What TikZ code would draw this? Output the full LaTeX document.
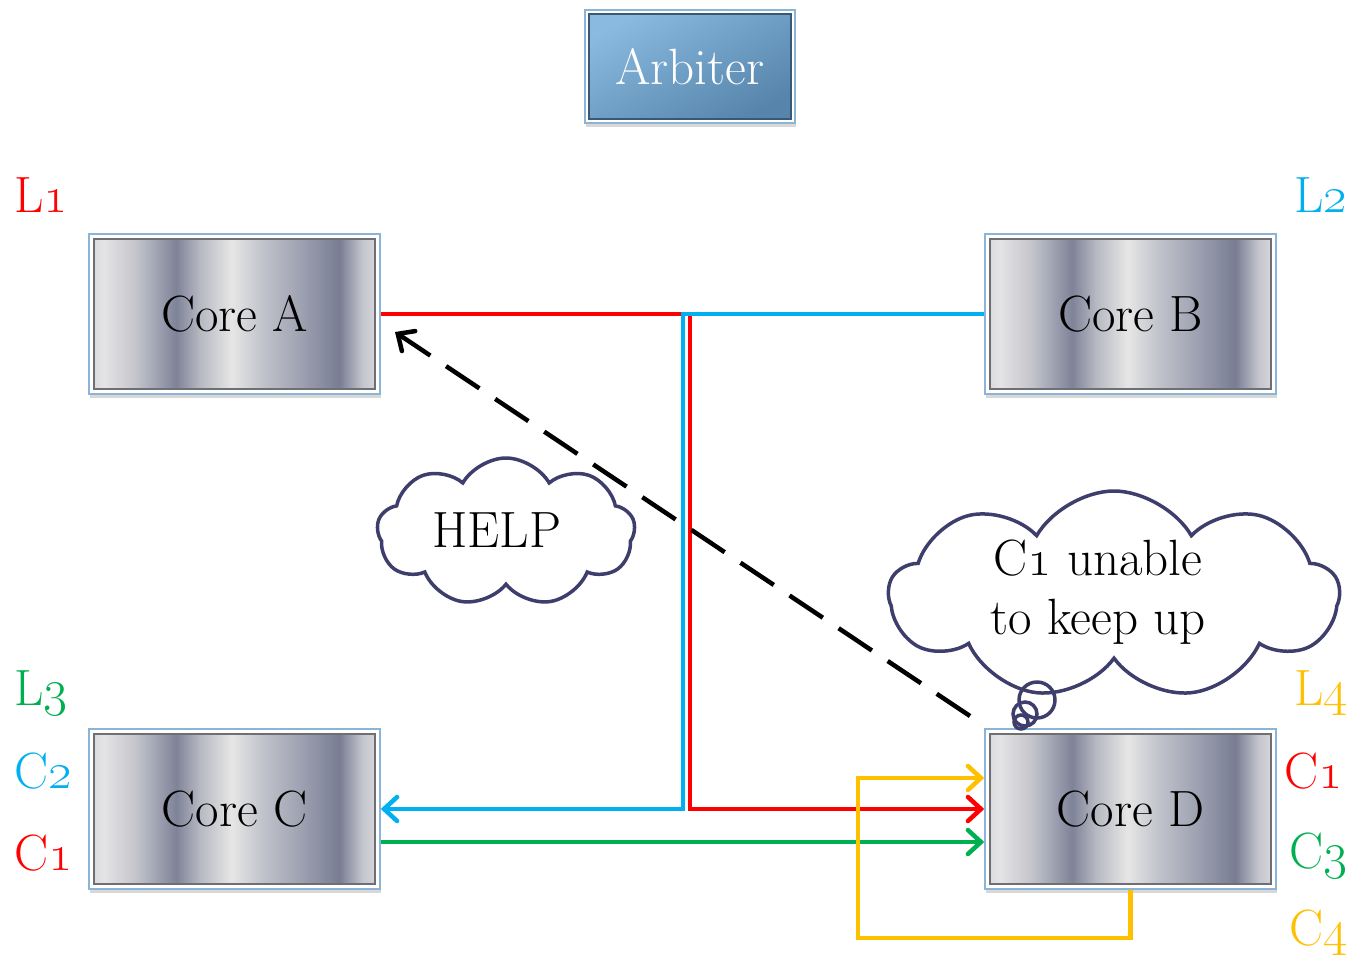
\documentclass[tikz,border=0pt]{standalone}
\usepackage{fix-cm}
\usetikzlibrary{arrows.meta,shapes.symbols,shadows}

\definecolor{cred}{RGB}{255,0,0}
\definecolor{cblue}{RGB}{0,176,240}
\definecolor{cgreen}{RGB}{0,176,80}
\definecolor{cyellow}{RGB}{255,192,0}
\definecolor{cloudline}{RGB}{62,62,108}
\definecolor{frameblue}{RGB}{140,180,215}
\definecolor{innergray}{RGB}{110,110,115}
\definecolor{arbA}{RGB}{138,186,224}
\definecolor{arbB}{RGB}{86,132,170}
\definecolor{arbEdge}{RGB}{58,88,118}
% brushed-metal stops, left to right
\definecolor{m0}{RGB}{214,214,218}
\definecolor{m1}{RGB}{228,228,230}
\definecolor{m2}{RGB}{196,197,204}
\definecolor{m3}{RGB}{126,131,152}
\definecolor{m4}{RGB}{182,184,194}
\definecolor{m5}{RGB}{230,230,230}
\definecolor{m6}{RGB}{192,194,202}
\definecolor{m7}{RGB}{160,163,178}
\definecolor{m8}{RGB}{120,125,148}
\definecolor{m9}{RGB}{196,197,205}
\definecolor{m10}{RGB}{220,220,224}

\pgfdeclarehorizontalshading{metal}{100bp}{%
  color(0bp)=(m0); color(25bp)=(m0); color(27.5bp)=(m1); color(33bp)=(m2);
  color(40bp)=(m3); color(44bp)=(m4); color(49.5bp)=(m5); color(55bp)=(m6);
  color(61bp)=(m7); color(68bp)=(m8); color(72bp)=(m9); color(75bp)=(m10);
  color(100bp)=(m10)}

\newcommand{\os}[1]{\oldstylenums{#1}}

\tikzset{
  big/.style={font=\fontsize{51}{59}\selectfont},
  core/.style={big, draw=frameblue, line width=1.5pt, fill=white,
    minimum width=291pt, minimum height=160pt, inner sep=0pt,
    drop shadow={shadow xshift=1pt, shadow yshift=-4pt, opacity=0.3},
    path picture={\shade[shading=metal, draw=innergray, line width=2pt]
      ([shift={(5pt,5pt)}]path picture bounding box.south west) rectangle
      ([shift={(-5pt,-5pt)}]path picture bounding box.north east);}},
  arbiterbox/.style={big, text=white, draw=frameblue, line width=2pt, fill=white,
    minimum width=210pt, minimum height=113pt, inner sep=0pt,
    drop shadow={shadow xshift=1pt, shadow yshift=-4pt, opacity=0.3},
    path picture={\shade[left color=arbA, right color=arbB, shading angle=30,
      draw=arbEdge, line width=2.5pt]
      ([shift={(4pt,4pt)}]path picture bounding box.south west) rectangle
      ([shift={(-4pt,-4pt)}]path picture bounding box.north east);}},
  cloudy/.style={cloud, cloud puffs=9, cloud puff arc=120, cloud ignores aspect,
    draw=cloudline, line width=3.5pt, fill=white, inner sep=0pt},
  bubble/.style={circle, draw=cloudline, line width=3.5pt, inner sep=0pt},
  lbl/.style={big, anchor=base west, inner sep=0pt},
  rlbl/.style={big, anchor=base east, inner sep=0pt},
  wire/.style={line width=4.5pt},
  tip/.style={-{Straight Barb[length=13pt,width=24pt,line cap=round]}},
}

\begin{document}
\begin{tikzpicture}[x=1pt, y=-1pt]
\useasboundingbox[fill=white] (0,0) rectangle (1354,956);

% arbiter and the four cores
\node[arbiterbox] (arb) at (690,66.5) {Arbiter};
\node[core] (A) at (234.5,314) {Core A};
\node[core] (B) at (1130.5,314) {Core B};
\node[core] (C) at (234.5,809) {Core C};
\node[core] (D) at (1130.5,809) {Core D};

% bend points of the routed wires
\coordinate (redx) at (690,0);
\coordinate (bluex) at (683,0);
\coordinate (loop) at (858,938);

% link wires
\draw[wire, cred, tip] (A.east) -- (A.east -| redx) -- (D.west -| redx) -- (D.west);
\draw[wire, cblue, tip] (B.west) -- (B.west -| bluex) -- (C.east -| bluex) -- (C.east);
\draw[wire, cgreen, tip] ([yshift=-33pt]C.east) -- ([yshift=-33pt]D.west);
\draw[wire, cyellow, tip] (D.south) |- (loop) |- ([yshift=31pt]D.west);

% thought clouds
\node[cloudy, minimum width=258pt, minimum height=148pt] (help) at (506,532) {};
\node[big] (helptext) at (497,530) {HELP};
\node[cloudy, minimum width=450pt, minimum height=208pt] (think) at (1114,595) {};
\node[big, align=center] (thinktext) at (1098,592) {C\os{1} unable\\to keep up};
\node[bubble, minimum size=36pt] (b1) at (1037,700) {};
\node[bubble, minimum size=24pt] (b2) at (1025,714) {};
\node[bubble, minimum size=14pt] (b3) at (1021,722) {};

% request for help from core D to core A
\coordinate (dstart) at (970,716);
\coordinate (dend) at (395,332);
\draw[wire, black, dash pattern=on 40pt off 19pt, tip] (dstart) -- (dend);

% link and channel labels
\node[lbl, cred] (l1) at (14,212) {L\os{1}};
\node[rlbl, cblue] (l2) at (1348,212) {L\os{2}};
\node[lbl, cgreen] (l3) at (14,705) {L\os{3}};
\node[lbl, cblue] (c2) at (14,788) {C\os{2}};
\node[lbl, cred] (c1l) at (14,870) {C\os{1}};
\node[rlbl, cyellow] (l4) at (1348,705) {L\os{4}};
\node[rlbl, cred] (c1r) at (1343,788) {C\os{1}};
\node[rlbl, cgreen] (c3) at (1348,868) {C\os{3}};
\node[rlbl, cyellow] (c4) at (1348,945) {C\os{4}};
\end{tikzpicture}
\end{document}
